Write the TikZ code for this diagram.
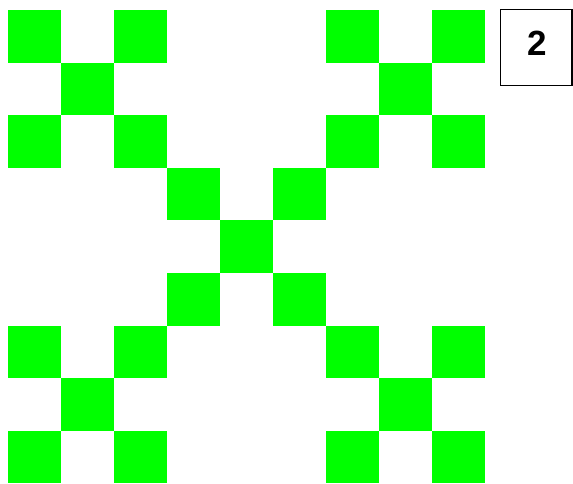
\documentclass[tikz,border=0pt]{standalone}
\usepackage{fontspec}
\setmainfont{Liberation Sans}
\definecolor{leafgreen}{HTML}{00FF00}
\tikzset{
	cell/.style={fill=leafgreen},
	levelbox/.style={draw=black, line width=1.4pt},
	levellabel/.style={font=\fontsize{35}{35}\selectfont\bfseries, inner sep=0pt}
}
\begin{document}
\begin{tikzpicture}[x=1pt, y=-1pt]
		\useasboundingbox (0, 0) rectangle (573, 483);

		% blocks of the first level, cells of the second
		\foreach \bx/\by in {0/0, 2/0, 1/1, 0/2, 2/2} {
			\foreach \cx/\cy in {0/0, 2/0, 1/1, 0/2, 2/2} {
				\fill[cell] ({8+53*(3*\bx+\cx)}, {10+52.6*(3*\by+\cy)}) rectangle ++(53, 52.6);
			}
		}

		% level number
		\draw[levelbox] (500.5, 9.5) rectangle (571.8, 85.5);
		\node[levellabel] (lvl) at (537.5, 43) {2};
	\end{tikzpicture}
\end{document}
